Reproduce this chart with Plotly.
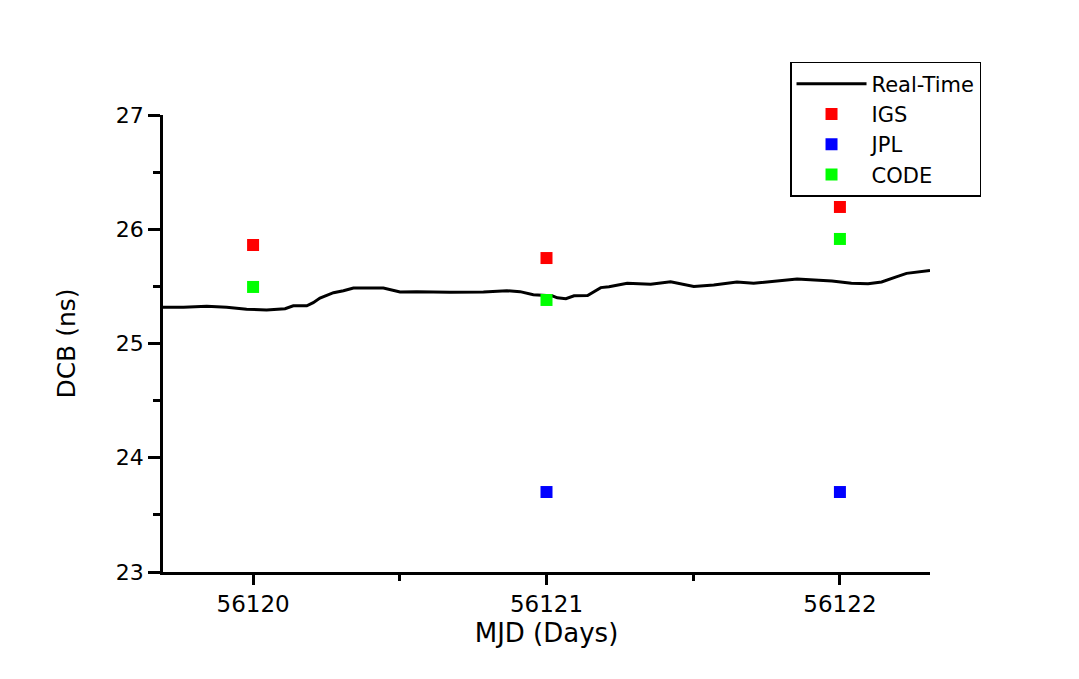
import plotly.graph_objects as go

# real-time DCB curve (MJD, ns)
rt_mjd = [56119.693, 56119.763, 56119.842, 56119.910, 56119.978, 56120.046, 56120.109,
          56120.137, 56120.183, 56120.205, 56120.228, 56120.274, 56120.308, 56120.342,
          56120.444, 56120.501, 56120.558, 56120.671, 56120.785, 56120.865, 56120.910,
          56120.955, 56121.000, 56121.017, 56121.037, 56121.066, 56121.094, 56121.140,
          56121.185, 56121.213, 56121.275, 56121.355, 56121.423, 56121.502, 56121.570,
          56121.649, 56121.706, 56121.786, 56121.854, 56121.973, 56122.039, 56122.096,
          56122.142, 56122.187, 56122.227, 56122.307]
rt_dcb = [25.317, 25.317, 25.325, 25.317, 25.300, 25.293, 25.305,
          25.330, 25.330, 25.357, 25.398, 25.445, 25.462, 25.486,
          25.486, 25.451, 25.454, 25.448, 25.451, 25.462, 25.454,
          25.427, 25.420, 25.420, 25.400, 25.392, 25.418, 25.420,
          25.489, 25.497, 25.527, 25.518, 25.541, 25.500, 25.512,
          25.538, 25.527, 25.547, 25.565, 25.547, 25.527, 25.524,
          25.538, 25.579, 25.614, 25.640]

igs_mjd = [56120, 56121, 56122]
igs_dcb = [25.862, 25.748, 26.195]

jpl_mjd = [56121, 56122]
jpl_dcb = [23.70, 23.70]

code_mjd = [56120, 56121, 56122]
code_dcb = [25.495, 25.381, 25.915]

FONT = "DejaVu Sans, Arial, sans-serif"

fig = go.Figure()
fig.add_trace(go.Scatter(x=rt_mjd, y=rt_dcb, mode="lines", name="Real-Time",
                         line=dict(color="black", width=3)))
fig.add_trace(go.Scatter(x=igs_mjd, y=igs_dcb, mode="markers", name="IGS",
                         marker=dict(symbol="square", color="#ff0000", size=12)))
fig.add_trace(go.Scatter(x=jpl_mjd, y=jpl_dcb, mode="markers", name="JPL",
                         marker=dict(symbol="square", color="#0000ff", size=12)))
fig.add_trace(go.Scatter(x=code_mjd, y=code_dcb, mode="markers", name="CODE",
                         marker=dict(symbol="square", color="#00ff00", size=12)))

fig.update_layout(
    width=1079, height=679,
    margin=dict(l=155, r=157, t=107, b=115),
    paper_bgcolor="white", plot_bgcolor="white",
    font=dict(family=FONT, color="black", size=21),
    showlegend=True,
    legend=dict(x=0.8175, y=1.116, xanchor="left", yanchor="top",
                bordercolor="black", borderwidth=1.5, bgcolor="white",
                font=dict(size=21), tracegroupgap=0, itemwidth=70),
)
fig.update_xaxes(
    range=[56119.693, 56122.307], tickvals=[56120, 56121, 56122],
    ticktext=["56120", "56121", "56122"], tickfont=dict(size=23),
    showgrid=False, zeroline=False, showline=True, linecolor="black", linewidth=2.5,
    ticks="outside", ticklen=10, tickwidth=2.5, tickcolor="black",
    minor=dict(tickvals=[56120.5, 56121.5], ticks="outside", ticklen=6,
               tickwidth=2.5, tickcolor="black"),
    title=dict(text="MJD (Days)", font=dict(size=26), standoff=8),
)
fig.update_yaxes(
    range=[23, 27], tickvals=[23, 24, 25, 26, 27], tickfont=dict(size=22),
    showgrid=False, zeroline=False, showline=True, linecolor="black", linewidth=2.5,
    ticks="outside", ticklen=12, tickwidth=2.5, tickcolor="black",
    minor=dict(tickvals=[23.5, 24.5, 25.5, 26.5], ticks="outside", ticklen=7,
               tickwidth=2.5, tickcolor="black"),
    title=dict(text="DCB (ns)", font=dict(size=25), standoff=34),
)

fig.write_html("out.html")
